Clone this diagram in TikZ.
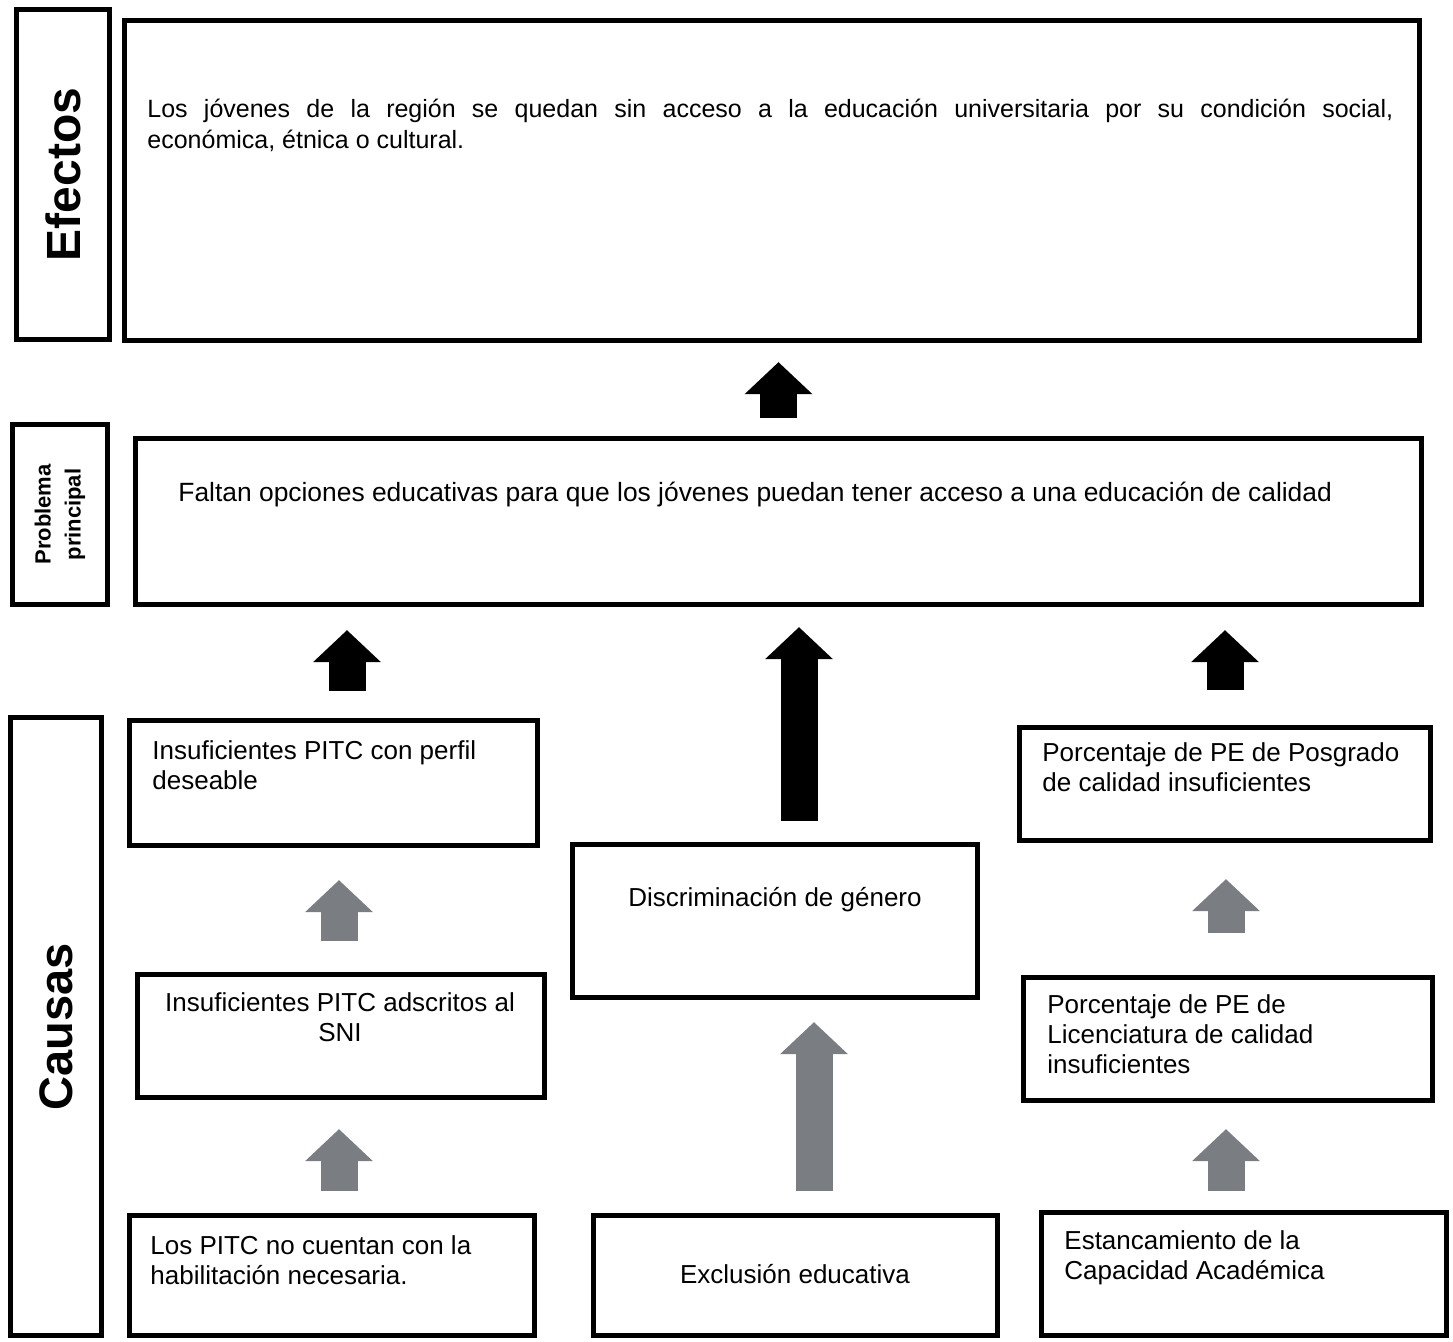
\documentclass[tikz,border=0pt]{standalone}
\usepackage{fontspec}
\setmainfont{Liberation Sans}
\usetikzlibrary{arrows.meta}
\definecolor{grisflecha}{RGB}{122,125,130}

\begin{document}
\begin{tikzpicture}[x=0.5pt, y=-0.5pt,
caja/.style={draw=black, line width=2.2pt, inner sep=0pt},
etiqueta/.style={draw=black, line width=2.6pt, rotate=90, inner sep=0pt, align=center, font=\bfseries\fontsize{24}{26}\selectfont},
texto/.style={inner sep=0pt, align=left, font=\fontsize{13}{15}\selectfont},
flecha/.style={line width=18.5pt, -{Triangle[width=34pt, length=16pt, line width=0pt]}},
negra/.style={flecha, draw=black},
gris/.style={flecha, draw=grisflecha}
]
\useasboundingbox (0,0) rectangle (1453,1341);
%Labels
\node[etiqueta, minimum width=165pt, minimum height=46.5pt]  (efectos)  at (63,174.5)   {Efectos};
\node[etiqueta, minimum width=90pt, minimum height=47.5pt, font=\bfseries\fontsize{11}{15}\selectfont]
                                                             (problema) at (60,514.5)   {Problema\\principal};
\node[etiqueta, minimum width=309pt, minimum height=45.5pt, font=\bfseries\fontsize{23.5}{26}\selectfont]
                                                             (causas)   at (56,1026.5)  {Causas};
%Boxes
\node[caja, minimum width=647.5pt, minimum height=160pt]     (eff)      at (772,180.5)  {};
\node[caja, minimum width=643pt, minimum height=83pt]        (prob)     at (778.5,521.5) {};
\node[caja, minimum width=204pt, minimum height=62.5pt]      (l1)       at (333.5,783)  {};
\node[caja, minimum width=203.5pt, minimum height=61.5pt]    (l2)       at (341,1036)   {};
\node[caja, minimum width=202.5pt, minimum height=60pt]      (l3)       at (332,1275.5) {};
\node[caja, minimum width=202.5pt, minimum height=76.5pt]    (m1)       at (775,921)    {};
\node[caja, minimum width=202pt, minimum height=60pt]        (m2)       at (795.5,1275.5) {};
\node[caja, minimum width=205.5pt, minimum height=56.5pt]    (r1)       at (1225,784)   {};
\node[caja, minimum width=204.5pt, minimum height=61.5pt]    (r2)       at (1228,1039)  {};
\node[caja, minimum width=202.5pt, minimum height=61.5pt]    (r3)       at (1244,1274)  {};
%Texts
\node[texto, anchor=north west, text width=623pt, align=justify, font=\fontsize{12.5}{15.5}\selectfont]
                         (efftxt)  at (147,99)   {Los jóvenes de la región se quedan sin acceso a la educación universitaria por su condición social,\linebreak económica, étnica o cultural.};
\node[texto, anchor=north west, font=\fontsize{13.2}{15}\selectfont]
                         (probtxt) at (178,482)  {Faltan opciones educativas para que los jóvenes puedan tener acceso a una educación de calidad};
\node[texto, anchor=north west] (l1txt) at (152,740)  {Insuficientes PITC con perfil\\deseable};
\node[texto, anchor=north, align=center] (l2txt) at (340,992) {Insuficientes PITC adscritos al\\SNI};
\node[texto, anchor=north west] (l3txt) at (150,1235) {Los PITC no cuentan con la\\habilitación necesaria.};
\node[texto]                    (m1txt) at (775,900)  {Discriminación de género};
\node[texto]                    (m2txt) at (795,1274) {Exclusión educativa};
\node[texto, anchor=north west] (r1txt) at (1042,742) {Porcentaje de PE de Posgrado\\de calidad insuficientes};
\node[texto, anchor=north west] (r2txt) at (1047,994) {Porcentaje de PE de\\Licenciatura de calidad\\insuficientes};
\node[texto, anchor=north west] (r3txt) at (1064,1230) {Estancamiento de la\\Capacidad Académica};
%Arrows
\draw[negra, shorten <=9.25pt, shorten >=9.75pt]   (prob.north) -- (prob.north |- eff.south);
\draw[negra, shorten <=13.75pt, shorten >=11.75pt] ([xshift=6.75pt]l1.north) -- ([xshift=6.75pt]l1.north |- prob.south);
\draw[negra, shorten <=10.75pt, shorten >=10.25pt] ([xshift=12pt]m1.north) -- ([xshift=12pt]m1.north |- prob.south);
\draw[negra, shorten <=17.75pt, shorten >=11.75pt] (r1.north) -- (r1.north |- prob.south);
\draw[gris, shorten <=15.75pt, shorten >=16.25pt]  ([xshift=-1pt]l2.north) -- ([xshift=-1pt]l2.north |- l1.south);
\draw[gris, shorten <=11.25pt, shorten >=14.75pt]  ([xshift=3.5pt]l3.north) -- ([xshift=3.5pt]l3.north |- l2.south);
\draw[gris, shorten <=11.25pt, shorten >=11.25pt]  ([xshift=9.25pt]m2.north) -- ([xshift=9.25pt]m2.north |- m1.south);
\draw[gris, shorten <=21.25pt, shorten >=18.25pt]  ([xshift=-1pt]r2.north) -- ([xshift=-1pt]r2.north |- r1.south);
\draw[gris, shorten <=9.75pt, shorten >=13.25pt]   ([xshift=-9pt]r3.north) -- ([xshift=-9pt]r3.north |- r2.south);
\end{tikzpicture}
\end{document}
